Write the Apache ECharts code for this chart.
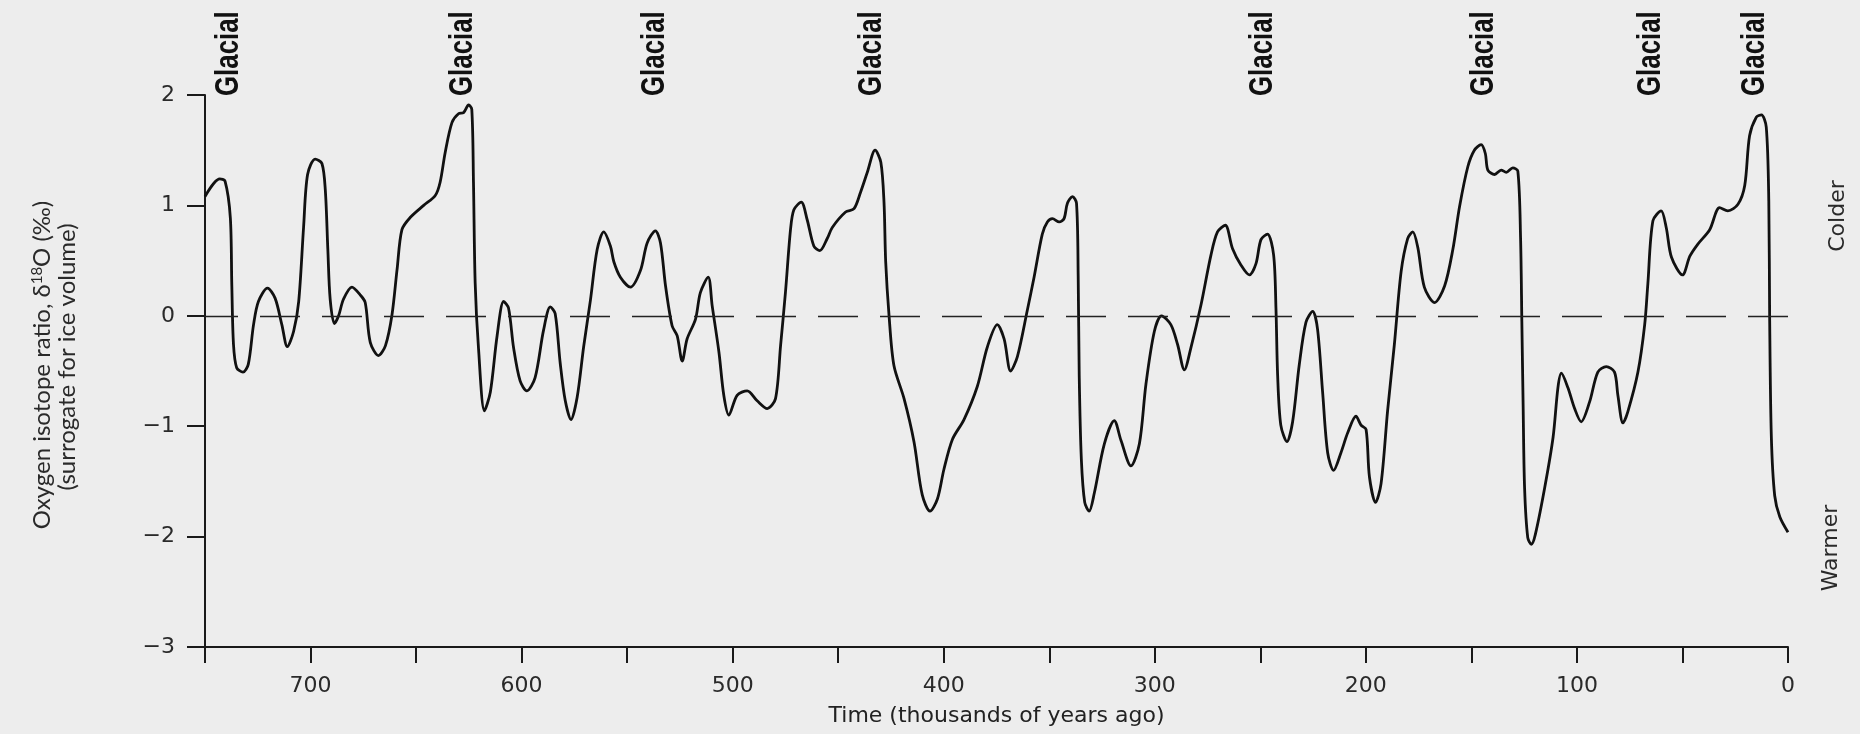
<!DOCTYPE html>
<html lang="en">
<head>
  <meta charset="UTF-8">
  <title>Oxygen isotope record</title>
  <style>
    html, body { margin: 0; padding: 0; background: #ededed; }
    #chart { width: 1860px; height: 734px; }
  </style>
</head>
<body>
  <div id="chart"></div>
  <script src="https://cdn.jsdelivr.net/npm/echarts@6/dist/echarts.min.js"></script>
  <script>
    // age in thousands of years ago, read from left (oldest) to right (today)
    var ages = [
      750, 743, 740.5, 738, 737.3, 736.5, 735, 732, 729.5, 727, 724.7, 720.4, 716.8, 713.6, 711, 708,
      705.6, 703.3, 701.4, 697.8, 694.6, 693, 691.8, 690.7, 688.7, 686.7, 684.4, 680.4, 676.5, 674.1,
      671.7, 667.8, 664.5, 661.4, 659, 656.7, 652.8, 646.4, 640.9, 638.6, 636.2, 633, 629.9, 627.5,
      625.1, 623.6, 622.8, 622, 620.4, 617.6, 614.8, 611.6, 608.5, 606.2, 603.8, 600.7, 597.5, 593.6,
      589.6, 586.4, 584.1, 581.7, 579.3, 576.6, 573.7, 570.6, 567.4, 564.2, 561.1, 557.9, 556.3, 553.2,
      548.4, 543.7, 540.5, 536.6, 534.2, 531.8, 528.7, 526.3, 523.9, 521.6, 517.6, 515.3, 511.6, 509.7,
      506.5, 504.2, 501.8, 497.9, 493.1, 488.4, 483.6, 479.7, 477.3, 475, 472.6, 471, 467.5, 464.7,
      461.5, 458.7, 455.2, 452.8, 446.5, 442.5, 439.4, 436.2, 432.5, 429.8, 428.3, 427.5, 425.9, 423.6,
      418.8, 414.1, 410.2, 406.5, 403, 399.9, 395.9, 390.4, 384.1, 379.3, 374.6, 371.4, 368.3, 365.1,
      360.4, 357.2, 353.3, 350.9, 348.5, 345.3, 343, 341.4, 339, 337.1, 336.3, 335.8, 334.8, 333.2,
      331.1, 328.7, 323.9, 319.2, 316, 311.3, 307.3, 304.2, 300.2, 296.8, 292.4, 289.2, 286, 282.9,
      278.1, 273.4, 270.3, 266.6, 263.2, 259.2, 255.2, 252.1, 249.7, 246.6, 243.7, 242.6, 241.8, 240.3,
      237.4, 234.7, 231.6, 228.4, 225.2, 222.9, 220.5, 218.1, 215.3, 211.8, 208.6, 204.7, 202.3, 199.9,
      198.3, 195.4, 192.8, 189.7, 186.5, 183.3, 180.2, 177.8, 175.4, 172.3, 167.5, 162.7, 158.8, 155.6,
      151.7, 148.6, 145.4, 143.4, 142.2, 139, 135.9, 133.5, 130.4, 128, 126.7, 126.1, 125.5, 124.8,
      123.3, 121.6, 119.7, 115.3, 111.3, 109, 107.4, 104.3, 101.1, 98, 94, 90.1, 86.1, 82.2,
      80.6, 78.2, 75.9, 71.1, 67.9, 66.4, 64, 60.1, 57.7, 55.2, 50, 46.5, 42.7, 37.1,
      32.4, 28.5, 23.7, 20.5, 18.2, 15, 12.6, 10.3, 9.1, 8.7, 7.9, 6.3, 3.9, 0
    ];
    // delta 18O (per mil)
    var isotope = [
      1.08, 1.24, 1.22, 0.89, 0.28, -0.26, -0.47, -0.51, -0.44, -0.08, 0.13, 0.25, 0.16, -0.08, -0.28, -0.14,
      0.13, 0.80, 1.28, 1.42, 1.38, 1.14, 0.60, 0.15, -0.07, 0.0, 0.15, 0.26, 0.19, 0.12,
      -0.24, -0.36, -0.27, 0.01, 0.42, 0.78, 0.89, 1.0, 1.09, 1.21, 1.48, 1.75, 1.83, 1.84,
      1.91, 1.87, 1.21, 0.30, -0.30, -0.86, -0.69, -0.18, 0.13, 0.07, -0.29, -0.59, -0.68, -0.56,
      -0.13, 0.08, 0.02, -0.43, -0.77, -0.94, -0.74, -0.28, 0.14, 0.60, 0.76, 0.63, 0.49, 0.35,
      0.26, 0.41, 0.66, 0.77, 0.66, 0.27, -0.09, -0.18, -0.41, -0.21, -0.03, 0.21, 0.35, 0.09,
      -0.33, -0.72, -0.90, -0.72, -0.68, -0.77, -0.84, -0.75, -0.27, 0.21, 0.78, 0.96, 1.03, 0.87,
      0.63, 0.59, 0.70, 0.80, 0.94, 0.97, 1.12, 1.30, 1.50, 1.39, 1.03, 0.49, 0.0, -0.45,
      -0.75, -1.14, -1.62, -1.77, -1.66, -1.39, -1.12, -0.94, -0.64, -0.28, -0.08, -0.21, -0.50, -0.37,
      0.05, 0.35, 0.74, 0.85, 0.88, 0.85, 0.88, 1.02, 1.08, 1.02, 0.36, -0.55, -1.30, -1.69,
      -1.77, -1.61, -1.16, -0.95, -1.13, -1.36, -1.16, -0.62, -0.14, 0.0, -0.08, -0.26, -0.49, -0.29,
      0.10, 0.55, 0.76, 0.82, 0.61, 0.46, 0.37, 0.47, 0.69, 0.74, 0.55, 0.07, -0.54, -0.99,
      -1.14, -0.96, -0.45, -0.06, 0.04, -0.12, -0.69, -1.24, -1.40, -1.24, -1.06, -0.91, -0.99, -1.03,
      -1.46, -1.69, -1.52, -0.86, -0.26, 0.40, 0.70, 0.76, 0.62, 0.26, 0.12, 0.27, 0.60, 0.99,
      1.35, 1.50, 1.55, 1.47, 1.32, 1.28, 1.32, 1.30, 1.34, 1.31, 0.70, -0.05, -0.80, -1.56,
      -2.01, -2.07, -1.98, -1.56, -1.10, -0.65, -0.52, -0.65, -0.84, -0.96, -0.78, -0.51, -0.46, -0.51,
      -0.72, -0.97, -0.87, -0.51, -0.08, 0.29, 0.86, 0.95, 0.80, 0.53, 0.37, 0.54, 0.65, 0.78,
      0.98, 0.95, 1.01, 1.18, 1.63, 1.80, 1.82, 1.71, 1.04, 0.0, -1.09, -1.63, -1.82, -1.96
    ];
    var glacialAges = [739, 628, 537, 434, 249, 144, 65, 16];
    var xLabelAges = [700, 600, 500, 400, 300, 200, 100, 0];
    var yRange = [-3, 2];

    var chart = echarts.init(document.getElementById('chart'));

    var seriesData = ages.map(function (a, i) { return [a, isotope[i]]; });

    var option = {
      backgroundColor: '#ededed',
      animation: false,
      grid: { left: 205, right: 72, top: 95, bottom: 87 },
      xAxis: {
        type: 'value',
        min: 0,
        max: 750,
        interval: 50,
        inverse: true,
        name: 'Time (thousands of years ago)',
        nameLocation: 'middle',
        nameGap: 58,
        nameTextStyle: { fontFamily: 'DejaVu Sans', fontSize: 22, color: '#222' },
        axisLine: { onZero: false, lineStyle: { color: '#1a1a1a', width: 2 } },
        axisTick: { length: 16, lineStyle: { color: '#1a1a1a', width: 2 } },
        axisLabel: {
          margin: 28,
          fontFamily: 'DejaVu Sans',
          fontSize: 22,
          color: '#2a2a2a',
          formatter: function (v) { return xLabelAges.indexOf(v) >= 0 ? String(v) : ''; }
        },
        splitLine: { show: false }
      },
      yAxis: {
        type: 'value',
        min: yRange[0],
        max: yRange[1],
        interval: 1,
        axisLine: { show: true, onZero: false, lineStyle: { color: '#1a1a1a', width: 2 } },
        axisTick: { show: true, length: 18, lineStyle: { color: '#1a1a1a', width: 2 } },
        axisLabel: {
          margin: 30,
          fontFamily: 'DejaVu Sans',
          fontSize: 22,
          color: '#2a2a2a',
          formatter: function (v) { return String(v).replace('-', '\u2212'); }
        },
        splitLine: { show: false }
      },
      series: [{
        type: 'line',
        data: seriesData,
        smooth: 0.3,
        showSymbol: false,
        lineStyle: { color: '#111', width: 2.8, join: 'round' },
        markLine: {
          silent: true,
          symbol: 'none',
          label: { show: false },
          lineStyle: { color: '#222', width: 1.3, type: [40, 22] },
          data: [{ yAxis: 0 }]
        }
      }]
    };

    chart.setOption(option);

    // labels that sit beside the axes
    var graphics = [
      {
        type: 'text', x: 42, y: 365, rotation: Math.PI / 2,
        style: {
          text: 'Oxygen isotope ratio, \u03b4{sup|18}O (\u2030)',
          font: '24px Lato', fill: '#2a2a2a',
          align: 'center', verticalAlign: 'middle',
          textAlign: 'center', textVerticalAlign: 'middle',
          rich: { sup: { fontSize: 15, fontFamily: 'Lato', verticalAlign: 'top', fill: '#2a2a2a' } }
        }
      },
      {
        type: 'text', x: 67, y: 357, rotation: Math.PI / 2,
        style: {
          text: '(surrogate for ice volume)',
          font: '24px Lato', fill: '#2a2a2a',
          align: 'center', verticalAlign: 'middle',
          textAlign: 'center', textVerticalAlign: 'middle'
        }
      },
      {
        type: 'text', x: 1838, y: 216, rotation: Math.PI / 2,
        style: {
          text: 'Colder', font: '22px "DejaVu Sans"', fill: '#2a2a2a',
          align: 'center', verticalAlign: 'middle',
          textAlign: 'center', textVerticalAlign: 'middle'
        }
      },
      {
        type: 'text', x: 1831, y: 548, rotation: Math.PI / 2,
        style: {
          text: 'Warmer', font: '22px "DejaVu Sans"', fill: '#2a2a2a',
          align: 'center', verticalAlign: 'middle',
          textAlign: 'center', textVerticalAlign: 'middle'
        }
      }
    ];

    glacialAges.forEach(function (age) {
      var p = chart.convertToPixel({ gridIndex: 0 }, [age, 0]);
      graphics.push({
        type: 'text', x: p[0], y: 96, rotation: Math.PI / 2, scaleX: 0.76,
        style: {
          text: 'Glacial', font: 'bold 34px "Liberation Sans"', fill: '#111',
          align: 'left', verticalAlign: 'middle',
          textAlign: 'left', textVerticalAlign: 'middle'
        }
      });
    });

    chart.setOption({ graphic: graphics });
  </script>
</body>
</html>
